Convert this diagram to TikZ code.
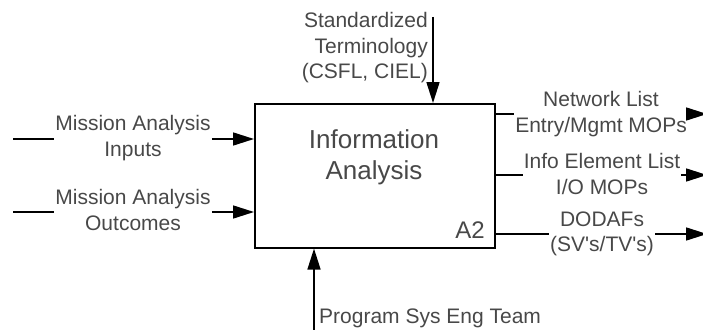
\documentclass[tikz,border=0pt]{standalone}
\usepackage{fontspec}
\setmainfont{Liberation Sans}
\usetikzlibrary{arrows.meta}
\definecolor{labelgray}{RGB}{72,72,72}
\begin{document}
\begin{tikzpicture}[x=1pt,y=-1pt,
  flow/.style={line width=1.6pt},
  flowarrow/.style={line width=1.6pt,-{Triangle[length=21pt,width=13pt]}},
  lbl/.style={text=labelgray,font=\fontsize{21}{25.5}\selectfont,align=center,inner sep=1pt},
  activity/.style={draw,line width=1.6pt,minimum width=240pt,minimum height=144pt,anchor=north west,inner sep=0pt}]
\useasboundingbox (0,0) rectangle (703,329);

% activity box
\node[activity] (box) at (254,103) {};
\node[text=labelgray,font=\fontsize{26}{31}\selectfont,align=center] (title) at (374,157) {Information\\Analysis};
\node[text=labelgray,font=\fontsize{24}{28}\selectfont,anchor=east,inner sep=0pt] (num) at (485,230) {A2};

% inputs
\coordinate (in1) at (13,139);
\node[lbl] (in1lbl) at (133,138) {Mission Analysis\\Inputs};
\draw[flow] (in1) -- (in1lbl.west |- in1);
\draw[flowarrow] (in1lbl.east |- in1) -- (box.west |- in1);

\coordinate (in2) at (13,212);
\node[lbl] (in2lbl) at (133,210) {Mission Analysis\\Outcomes};
\draw[flow] (in2) -- (in2lbl.west |- in2);
\draw[flowarrow] (in2lbl.east |- in2) -- (box.west |- in2);

% control
\coordinate (ctl) at (433,17);
\node[lbl,align=right,anchor=east] (ctllbl) at (429,48) {Standardized\\Terminology\\(CSFL, CIEL)};
\draw[flowarrow] (ctl) -- (box.north -| ctl);

% mechanism
\coordinate (mech) at (314,335);
\node[lbl,anchor=west] (mechlbl) at (318,318) {Program Sys Eng Team};
\draw[flowarrow] (mech) -- (box.south -| mech);

% outputs
\coordinate (out1) at (707,114);
\node[lbl] (out1lbl) at (601,114) {Network List\\Entry/Mgmt MOPs};
\draw[flow] (box.east |- out1) -- (out1lbl.west |- out1);
\draw[flowarrow] (out1lbl.east |- out1) -- (out1);

\coordinate (out2) at (707,175);
\node[lbl] (out2lbl) at (602,174) {Info Element List\\I/O MOPs};
\draw[flow] (box.east |- out2) -- (out2lbl.west |- out2);
\draw[flowarrow] (out2lbl.east |- out2) -- (out2);

\coordinate (out3) at (707,234);
\node[lbl] (out3lbl) at (602,234) {DODAFs\\(SV\textquotesingle s/TV\textquotesingle s)};
\draw[flow] (box.east |- out3) -- (out3lbl.west |- out3);
\draw[flowarrow] (out3lbl.east |- out3) -- (out3);
\end{tikzpicture}
\end{document}
